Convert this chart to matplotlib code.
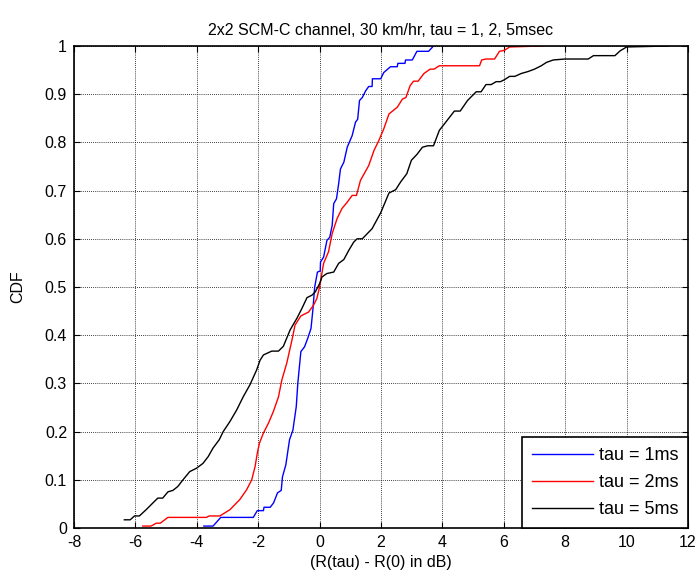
import matplotlib
matplotlib.use("Agg")
import matplotlib.pyplot as plt

plt.rcParams['font.family'] = ['Liberation Sans', 'DejaVu Sans']
plt.rcParams['axes.unicode_minus'] = False

# tau = 1 ms
x1 = [-3.77, -3.47, -3.22, -2.16, -2.03, -1.83, -1.81, -1.61, -1.50, -1.42, -1.37, -1.25, -1.21,
      -1.10, -0.98, -0.87, -0.76, -0.71, -0.61, -0.49, -0.39, -0.28, -0.22, -0.16, -0.07, 0.02,
      0.03, 0.13, 0.24, 0.33, 0.41, 0.46, 0.55, 0.62, 0.68, 0.79, 0.90, 1.06, 1.17, 1.24, 1.30,
      1.39, 1.50, 1.60, 1.71, 1.72, 1.99, 2.09, 2.31, 2.53, 2.55, 2.78, 2.80, 3.02, 3.17, 3.55, 3.71]
y1 = [0.004, 0.004, 0.022, 0.022, 0.036, 0.036, 0.043, 0.043, 0.052, 0.065, 0.073, 0.078, 0.106,
      0.131, 0.183, 0.203, 0.252, 0.300, 0.366, 0.376, 0.393, 0.414, 0.452, 0.500, 0.531, 0.533,
      0.552, 0.562, 0.597, 0.603, 0.628, 0.673, 0.683, 0.714, 0.745, 0.759, 0.790, 0.814, 0.842, 0.848, 0.887,
      0.893, 0.907, 0.916, 0.916, 0.932, 0.932, 0.945, 0.957, 0.957, 0.964, 0.964, 0.971, 0.971, 0.989, 0.989, 1.0]

# tau = 2 ms
x2 = [-5.76, -5.49, -5.32, -5.19, -4.94, -3.69, -3.60, -3.25, -2.92, -2.60, -2.38, -2.21, -2.10,
      -2.03, -1.96, -1.83, -1.67, -1.51, -1.34, -1.23, -1.07, -0.90, -0.80, -0.61, -0.36, -0.20,
      -0.09, 0.0, 0.13, 0.29, 0.41, 0.57, 0.73, 0.90, 1.06, 1.20, 1.33, 1.60, 1.77, 1.93, 2.09,
      2.26, 2.53, 2.70, 2.81, 2.95, 3.06, 3.21, 3.40, 3.60, 3.73, 3.90, 5.21, 5.28, 5.42, 5.70,
      5.86, 6.02, 6.19, 7.20]
y2 = [0.004, 0.004, 0.010, 0.010, 0.022, 0.022, 0.025, 0.025, 0.038, 0.059, 0.079, 0.100, 0.128,
      0.155, 0.176, 0.197, 0.217, 0.241, 0.272, 0.307, 0.342, 0.390, 0.421, 0.440, 0.448, 0.462,
      0.476, 0.500, 0.549, 0.573, 0.611, 0.642, 0.663, 0.676, 0.690, 0.690, 0.721, 0.752, 0.783, 0.804, 0.828,
      0.859, 0.873, 0.890, 0.893, 0.918, 0.927, 0.927, 0.943, 0.952, 0.952, 0.959, 0.959, 0.971, 0.973, 0.973,
      0.989, 0.991, 0.998, 1.0]

# tau = 5 ms
x5 = [-6.36, -6.17, -6.03, -5.87, -5.65, -5.43, -5.27, -5.11, -4.94, -4.78, -4.62, -4.45, -4.23,
      -4.01, -3.80, -3.63, -3.47, -3.27, -3.14, -2.92, -2.70, -2.49, -2.27, -2.05, -1.94, -1.83,
      -1.56, -1.34, -1.18, -0.96, -0.74, -0.58, -0.41, -0.25, -0.14, 0.0, 0.08, 0.24, 0.46, 0.62,
      0.79, 0.95, 1.11, 1.22, 1.39, 1.71, 1.99, 2.26, 2.48, 2.64, 2.84, 2.99, 3.17, 3.35, 3.52,
      3.71, 3.90, 4.06, 4.28, 4.39, 4.58, 4.82, 5.10, 5.26, 5.42, 5.59, 5.75, 5.89, 6.02, 6.19,
      6.36, 6.57, 6.79, 7.00, 7.22, 7.39, 7.61, 7.99, 8.75, 8.92, 9.62, 9.79, 10.0, 11.37]
y5 = [0.017, 0.017, 0.025, 0.025, 0.038, 0.052, 0.062, 0.062, 0.075, 0.078, 0.086, 0.100, 0.117,
      0.124, 0.134, 0.148, 0.166, 0.183, 0.200, 0.221, 0.245, 0.272, 0.297, 0.328, 0.348, 0.359,
      0.367, 0.367, 0.377, 0.411, 0.435, 0.455, 0.478, 0.483, 0.490, 0.507, 0.521, 0.528, 0.531, 0.549,
      0.557, 0.576, 0.593, 0.600, 0.600, 0.621, 0.654, 0.695, 0.702, 0.718, 0.735, 0.763, 0.775, 0.790, 0.793,
      0.793, 0.825, 0.838, 0.856, 0.865, 0.865, 0.887, 0.905, 0.905, 0.920, 0.920, 0.926, 0.926, 0.930, 0.937,
      0.937, 0.943, 0.947, 0.952, 0.959, 0.966, 0.971, 0.973, 0.973, 0.980, 0.980, 0.990, 0.998, 1.0]

xticks = list(range(-8, 13, 2))
yticks = [0, 0.1, 0.2, 0.3, 0.4, 0.5, 0.6, 0.7, 0.8, 0.9, 1]
ytick_labels = ['0', '0.1', '0.2', '0.3', '0.4', '0.5', '0.6', '0.7', '0.8', '0.9', '1']

fig = plt.figure(figsize=(6.98, 5.76), dpi=100)
ax = fig.add_axes([74/698, 48/576, 614/698, 482/576])

ax.plot(x1, y1, color='#0000ff', lw=1.0, label='tau = 1ms')
ax.plot(x2, y2, color='#ff0000', lw=1.0, label='tau = 2ms')
ax.plot(x5, y5, color='#000000', lw=1.0, label='tau = 5ms')

ax.set_xlim(-8, 12)
ax.set_ylim(0, 1)
ax.set_xticks(xticks)
ax.set_yticks(yticks)
ax.set_yticklabels(ytick_labels)
ax.tick_params(direction='in', top=True, right=True, labelsize=11.5, length=4, width=0.8, pad=5)
ax.grid(True, color='black', linestyle=(0, (1, 1.5)), linewidth=0.6)
for s in ax.spines.values():
    s.set_linewidth(1.2)

ax.set_title('2x2 SCM-C channel, 30 km/hr, tau = 1, 2, 5msec', fontsize=11.5, pad=8)
ax.set_xlabel('(R(tau) - R(0) in dB)', fontsize=11.5, labelpad=4)
ax.set_ylabel('CDF', fontsize=11.5, labelpad=14)

leg = ax.legend(loc='lower right', fontsize=13, frameon=True, fancybox=False,
                edgecolor='black', borderaxespad=0, handlelength=3.4, handletextpad=0.3,
                labelspacing=0.55, borderpad=0.55)
leg.get_frame().set_linewidth(1.2)
leg.get_frame().set_alpha(1)

fig.savefig('out.png', dpi=100)
